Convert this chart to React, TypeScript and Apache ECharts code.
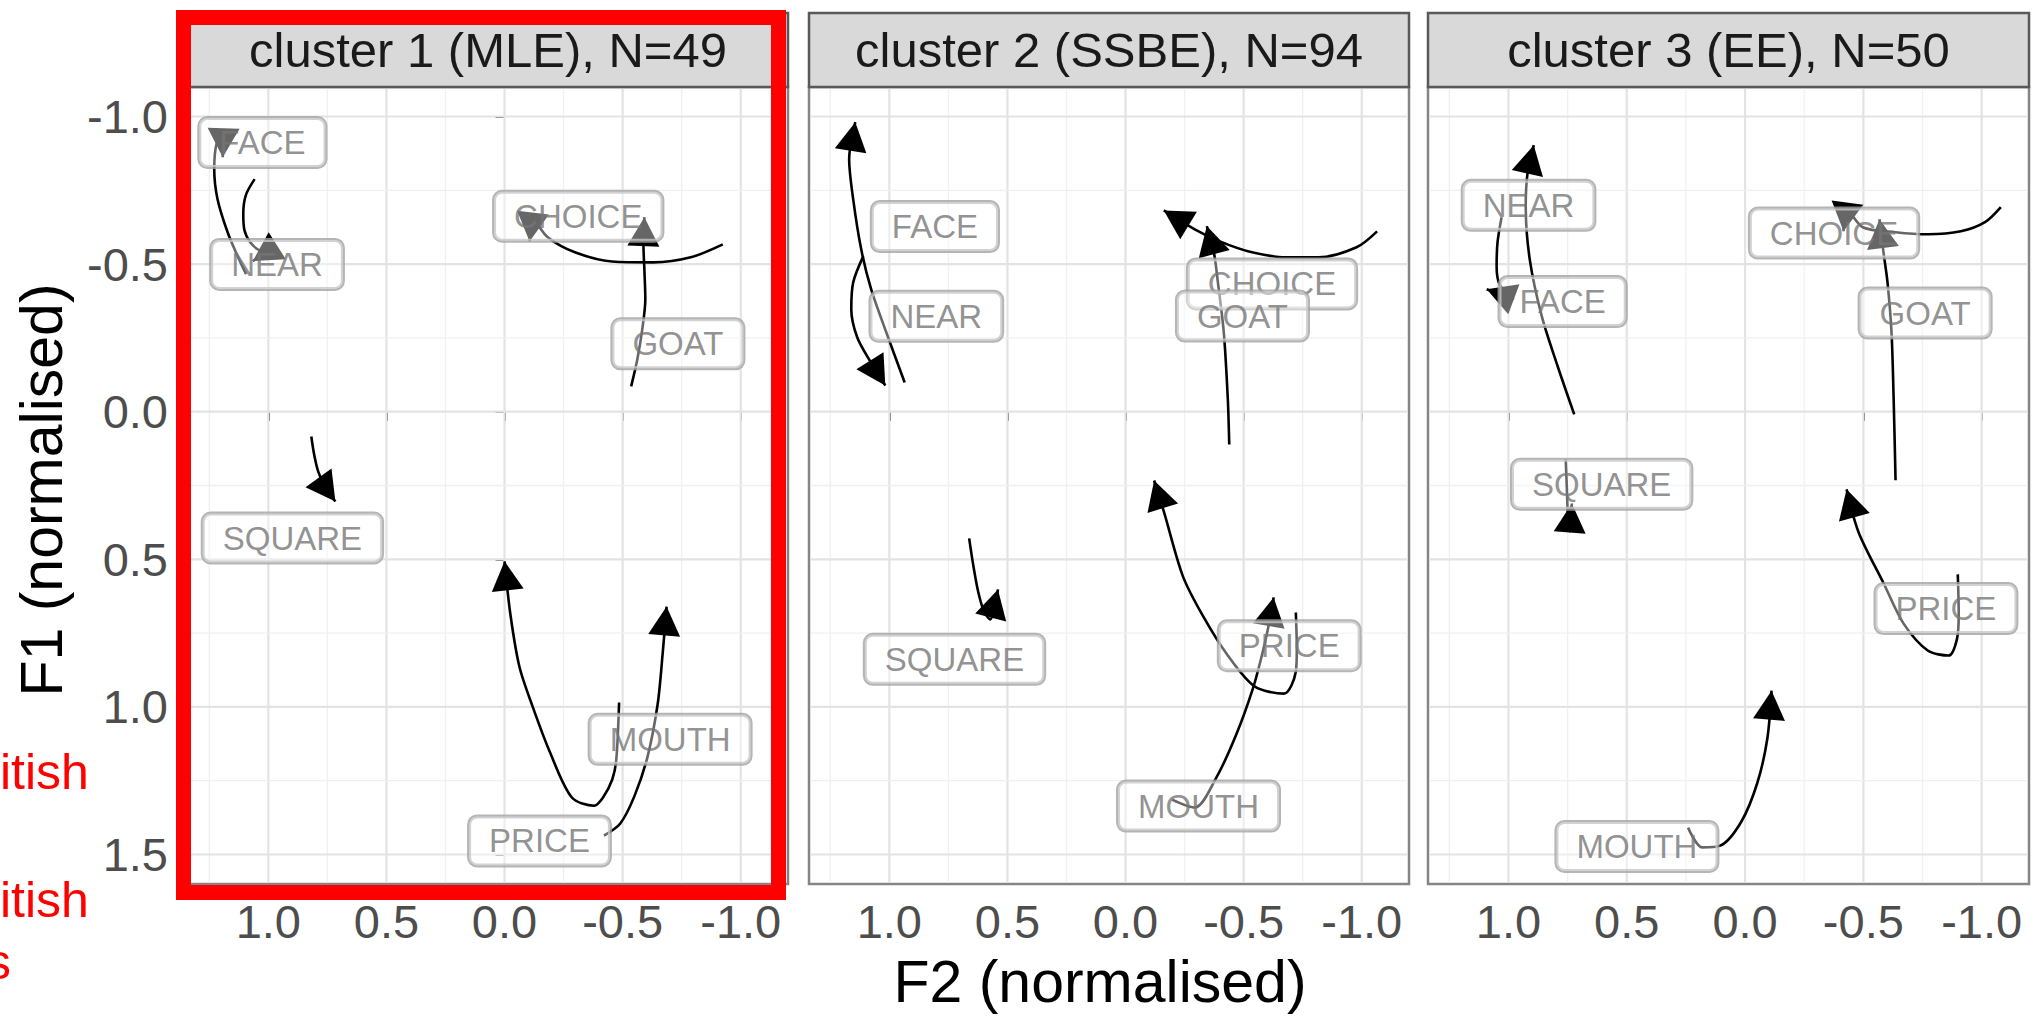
import React, { useEffect, useRef } from "react";
import * as echarts from "echarts";

// ---------- DATA ----------
const PANEL_TITLES = ["cluster 1 (MLE), N=49", "cluster 2 (SSBE), N=94", "cluster 3 (EE), N=50"];
const X_TITLE = "F2 (normalised)";
const Y_TITLE = "F1 (normalised)";
const X_TICKS = [1.0, 0.5, 0.0, -0.5, -1.0];
const Y_TICKS = [-1.0, -0.5, 0.0, 0.5, 1.0, 1.5];
const X_MINOR = [1.25, 0.75, 0.25, -0.25, -0.75];
const Y_MINOR = [-0.75, -0.25, 0.25, 0.75, 1.25];
const X_RANGE = [-1.2, 1.34];
const Y_RANGE = [-1.1, 1.6];
const SIDE_TEXTS = ["itish", "itish", "s"];

// trajectories: [F2, F1] per time point, last point = arrow tip
const P1_FACE = [[1.094, -0.466], [1.13, -0.527], [1.172, -0.607], [1.215, -0.72], [1.229, -0.822], [1.218, -0.912], [1.19, -0.94], [1.193, -0.862]];
const P1_NEAR = [[1.058, -0.788], [1.095, -0.734], [1.106, -0.67], [1.1, -0.612], [1.066, -0.564], [1.019, -0.543], [0.993, -0.547], [1.066, -0.51]];
const P1_CHOICE = [[-0.924, -0.567], [-0.788, -0.523], [-0.63, -0.506], [-0.455, -0.509], [-0.298, -0.54], [-0.183, -0.591], [-0.132, -0.645], [-0.119, -0.665], [-0.106, -0.577]];
const P1_GOAT = [[-0.536, -0.086], [-0.562, -0.177], [-0.583, -0.279], [-0.596, -0.381], [-0.592, -0.482], [-0.588, -0.567], [-0.592, -0.659]];
const P1_SQUARE = [[0.818, 0.084], [0.806, 0.145], [0.789, 0.202], [0.759, 0.256], [0.716, 0.304]];
const P1_PRICE = [[-0.485, 0.985], [-0.473, 1.179], [-0.456, 1.246], [-0.417, 1.307], [-0.379, 1.335], [-0.285, 1.307], [-0.191, 1.151], [-0.119, 0.999], [-0.063, 0.864], [-0.025, 0.688], [0.0, 0.507]];
const P1_MOUTH = [[-0.421, 1.436], [-0.49, 1.395], [-0.549, 1.304], [-0.605, 1.17], [-0.648, 0.992], [-0.669, 0.823], [-0.686, 0.66]];
const P1_LABELS: [string, number, number][] = [
  ["FACE", 1.025, -0.912], ["NEAR", 0.963, -0.499], ["CHOICE", -0.312, -0.662], ["GOAT", -0.734, -0.23],
  ["SQUARE", 0.898, 0.428], ["PRICE", -0.148, 1.454], ["MOUTH", -0.701, 1.11],
];

const P2_FACE = [[0.935, -0.099], [1.013, -0.269], [1.077, -0.415], [1.119, -0.55], [1.153, -0.72], [1.17, -0.855], [1.144, -0.981]];
const P2_NEAR = [[1.11, -0.527], [1.153, -0.438], [1.161, -0.347], [1.136, -0.252], [1.081, -0.171], [1.017, -0.089]];
const P2_CHOICE = [[-1.065, -0.611], [-0.978, -0.557], [-0.818, -0.523], [-0.678, -0.523], [-0.522, -0.543], [-0.399, -0.577], [-0.293, -0.618], [-0.162, -0.682]];
const P2_GOAT = [[-0.439, 0.111], [-0.433, -0.042], [-0.416, -0.268], [-0.391, -0.438], [-0.374, -0.539], [-0.344, -0.629]];
const P2_SQUARE = [[0.662, 0.429], [0.645, 0.518], [0.624, 0.609], [0.599, 0.677], [0.573, 0.704], [0.54, 0.602]];
const P2_PRICE = [[-0.721, 0.68], [-0.725, 0.806], [-0.721, 0.88], [-0.67, 0.955], [-0.547, 0.931], [-0.433, 0.826], [-0.327, 0.691], [-0.243, 0.558], [-0.162, 0.338], [-0.121, 0.233]];
const P2_MOUTH = [[-0.197, 1.314], [-0.293, 1.341], [-0.382, 1.243], [-0.467, 1.097], [-0.539, 0.938], [-0.581, 0.813], [-0.611, 0.704], [-0.627, 0.629]];
const P2_LABELS: [string, number, number][] = [
  ["FACE", 0.807, -0.627], ["NEAR", 0.801, -0.323], ["CHOICE", -0.62, -0.433], ["GOAT", -0.495, -0.324],
  ["SQUARE", 0.724, 0.839], ["PRICE", -0.693, 0.793], ["MOUTH", -0.309, 1.336],
];

const P3_FACE = [[0.722, 0.009], [0.792, -0.154], [0.859, -0.323], [0.91, -0.516], [0.927, -0.696], [0.919, -0.811], [0.893, -0.903]];
const P3_NEAR = [[1.029, -0.659], [1.046, -0.575], [1.05, -0.493], [1.037, -0.431], [0.978, -0.381], [1.092, -0.415]];
const P3_CHOICE = [[-1.081, -0.693], [-1.014, -0.642], [-0.912, -0.611], [-0.772, -0.601], [-0.636, -0.608], [-0.497, -0.625], [-0.429, -0.686], [-0.416, -0.611]];
const P3_GOAT = [[-0.636, 0.232], [-0.628, -0.042], [-0.619, -0.268], [-0.602, -0.438], [-0.585, -0.54], [-0.568, -0.652]];
const P3_SQUARE = [[0.758, 0.162], [0.753, 0.263], [0.749, 0.348], [0.741, 0.406], [0.732, 0.311]];
const P3_PRICE = [[-0.899, 0.551], [-0.903, 0.687], [-0.895, 0.772], [-0.861, 0.826], [-0.772, 0.809], [-0.67, 0.718], [-0.586, 0.582], [-0.48, 0.409], [-0.429, 0.263]];
const P3_MOUTH = [[0.241, 1.409], [0.181, 1.476], [0.105, 1.47], [0.016, 1.389], [-0.052, 1.257], [-0.094, 1.108], [-0.112, 0.945]];
const P3_LABELS: [string, number, number][] = [
  ["NEAR", 0.915, -0.699], ["FACE", 0.771, -0.373], ["CHOICE", -0.376, -0.605], ["GOAT", -0.761, -0.334],
  ["SQUARE", 0.606, 0.246], ["PRICE", -0.849, 0.667], ["MOUTH", 0.457, 1.473],
];

const PANELS = [
  { curves: [P1_FACE, P1_NEAR, P1_CHOICE, P1_GOAT, P1_SQUARE, P1_PRICE, P1_MOUTH], labels: P1_LABELS },
  { curves: [P2_FACE, P2_NEAR, P2_CHOICE, P2_GOAT, P2_SQUARE, P2_PRICE, P2_MOUTH], labels: P2_LABELS },
  { curves: [P3_FACE, P3_NEAR, P3_CHOICE, P3_GOAT, P3_SQUARE, P3_PRICE, P3_MOUTH], labels: P3_LABELS },
];

// ---------- LAYOUT ----------
const W = 2036;
const H = 1017;
const PANEL_LEFT = [188, 809, 1428];
const PANEL_W = [600, 600, 601];
const PANEL_TOP = 87;
const PANEL_H = 797;
const STRIP_TOP = 13;
const FONT = "'Liberation Sans', Arial, Helvetica, sans-serif";

const fmt = (v: number) => Number(v).toFixed(1);

function buildOption() {
  const gridData: number[][] = [];
  X_TICKS.forEach((v) => gridData.push([v, 0, 0]));
  X_MINOR.forEach((v) => gridData.push([v, 1, 0]));
  Y_TICKS.forEach((v) => gridData.push([0, 2, v]));
  Y_MINOR.forEach((v) => gridData.push([0, 3, v]));

  const grids = PANEL_LEFT.map((l, i) => ({
    left: l,
    top: PANEL_TOP,
    width: PANEL_W[i],
    height: PANEL_H,
    show: true,
    backgroundColor: "#ffffff",
    borderColor: "#858585",
    borderWidth: 2.5,
  }));

  const xAxes = PANEL_LEFT.map((_, i) => ({
    type: "value",
    gridIndex: i,
    min: X_RANGE[0],
    max: X_RANGE[1],
    inverse: true,
    axisLine: { show: false },
    splitLine: { show: false },
    axisTick: { show: true, customValues: X_TICKS, length: 9, lineStyle: { color: "#555555", width: 2 } },
    axisLabel: { show: true, customValues: X_TICKS, formatter: fmt, fontSize: 47, color: "#4d4d4d", margin: 14, fontFamily: FONT },
  }));

  const yAxes = PANEL_LEFT.map((_, i) => ({
    type: "value",
    gridIndex: i,
    min: Y_RANGE[0],
    max: Y_RANGE[1],
    inverse: true,
    axisLine: { show: false },
    splitLine: { show: false },
    axisTick: { show: i === 0, customValues: Y_TICKS, length: 9, lineStyle: { color: "#555555", width: 2 } },
    axisLabel: { show: i === 0, customValues: Y_TICKS, formatter: fmt, fontSize: 47, color: "#4d4d4d", margin: 20, fontFamily: FONT },
  }));

  const series: any[] = [];
  PANELS.forEach((panel, i) => {
    series.push({
      type: "custom",
      xAxisIndex: i,
      yAxisIndex: i,
      silent: true,
      z: 1,
      data: gridData,
      encode: { x: 0, y: 2 },
      renderItem: (params: any, api: any) => {
        const cs = params.coordSys;
        const kind = api.value(1);
        if (kind < 2) {
          const x = api.coord([api.value(0), 0])[0];
          return {
            type: "line",
            shape: { x1: x, y1: cs.y + 1.5, x2: x, y2: cs.y + cs.height - 1.5 },
            style: { stroke: kind === 0 ? "#e3e3e3" : "#f0f0f0", lineWidth: kind === 0 ? 2.2 : 1.3 },
          };
        }
        const y = api.coord([0, api.value(2)])[1];
        return {
          type: "line",
          shape: { x1: cs.x + 1.5, y1: y, x2: cs.x + cs.width - 1.5, y2: y },
          style: { stroke: kind === 2 ? "#e3e3e3" : "#f0f0f0", lineWidth: kind === 2 ? 2.2 : 1.3 },
        };
      },
    });

    panel.curves.forEach((c) => {
      series.push({
        type: "line",
        xAxisIndex: i,
        yAxisIndex: i,
        data: c,
        smooth: 0.3,
        symbol: "none",
        silent: true,
        z: 3,
        lineStyle: { color: "#000000", width: 2.6 },
      });
    });

    const arrowData = panel.curves.map((c) => {
      const a = c[c.length - 2];
      const b = c[c.length - 1];
      return [a[0], a[1], b[0], b[1]];
    });
    series.push({
      type: "custom",
      xAxisIndex: i,
      yAxisIndex: i,
      silent: true,
      z: 4,
      data: arrowData,
      encode: { x: [0, 2], y: [1, 3] },
      renderItem: (params: any, api: any) => {
        const a = api.coord([api.value(0), api.value(1)]);
        const b = api.coord([api.value(2), api.value(3)]);
        const dx = b[0] - a[0];
        const dy = b[1] - a[1];
        const len = Math.hypot(dx, dy) || 1;
        const ux = dx / len;
        const uy = dy / len;
        const L = 29;
        const HW = 16;
        const bx = b[0] - ux * L;
        const by = b[1] - uy * L;
        return {
          type: "polygon",
          shape: { points: [[b[0], b[1]], [bx - uy * HW, by + ux * HW], [bx + uy * HW, by - ux * HW]] },
          style: { fill: "#000000" },
        };
      },
    });

    series.push({
      type: "scatter",
      xAxisIndex: i,
      yAxisIndex: i,
      silent: true,
      z: 6,
      symbolSize: 1,
      itemStyle: { color: "rgba(0,0,0,0)" },
      data: panel.labels.map(([w, x, y]) => ({ name: w, value: [x, y] })),
      label: {
        show: true,
        position: "inside",
        formatter: "{b}",
        fontSize: 33,
        fontFamily: FONT,
        color: "#767676",
        backgroundColor: "rgba(255,255,255,0.5)",
        borderColor: "#a3a3a3",
        borderWidth: 2,
        borderRadius: 8,
        padding: [9, 20, 7, 20],
      },
    });
  });

  const graphic: any[] = [];
  PANEL_LEFT.forEach((l, i) => {
    graphic.push({
      type: "rect",
      z: 10,
      shape: { x: l, y: STRIP_TOP, width: PANEL_W[i], height: PANEL_TOP - STRIP_TOP },
      style: { fill: "#d9d9d9", stroke: "#595959", lineWidth: 2.5 },
    });
    graphic.push({
      type: "text",
      z: 11,
      style: {
        text: PANEL_TITLES[i],
        x: l + PANEL_W[i] / 2,
        y: 50,
        fontSize: 49,
        fontFamily: FONT,
        fill: "#1a1a1a",
        align: "center",
        verticalAlign: "middle",
      },
    });
  });
  graphic.push({
    type: "text",
    z: 11,
    style: { text: X_TITLE, x: 1100, y: 982, fontSize: 59, fontFamily: FONT, fill: "#000000", align: "center", verticalAlign: "middle" },
  });
  graphic.push({
    type: "text",
    z: 11,
    x: 42,
    y: 490,
    rotation: Math.PI / 2,
    style: { text: Y_TITLE, x: 0, y: 0, fontSize: 59, fontFamily: FONT, fill: "#000000", align: "center", verticalAlign: "middle" },
  });
  graphic.push({
    type: "rect",
    z: 100,
    shape: { x: 183.5, y: 17.5, width: 595, height: 875 },
    style: { fill: "none", stroke: "#ff0000", lineWidth: 15 },
  });
  const sidePos = [[0, 772], [0, 900], [-14, 962]];
  SIDE_TEXTS.forEach((t, k) => {
    graphic.push({
      type: "text",
      z: 100,
      style: { text: t, x: sidePos[k][0], y: sidePos[k][1], fontSize: 50, fontFamily: FONT, fill: "#ff0000", align: "left", verticalAlign: "middle" },
    });
  });

  return {
    animation: false,
    backgroundColor: "#ffffff",
    textStyle: { fontFamily: FONT },
    grid: grids,
    xAxis: xAxes,
    yAxis: yAxes,
    series,
    graphic,
  };
}

export default function App() {
  const ref = useRef<HTMLDivElement>(null);
  useEffect(() => {
    document.body.style.margin = "0";
    document.body.style.overflow = "hidden";
    if (!ref.current) return;
    const chart = echarts.init(ref.current, undefined, { renderer: "svg", width: W, height: H });
    chart.setOption(buildOption() as any);
    return () => chart.dispose();
  }, []);
  return <div ref={ref} style={{ position: "absolute", left: 0, top: 0, width: W, height: H }} />;
}
